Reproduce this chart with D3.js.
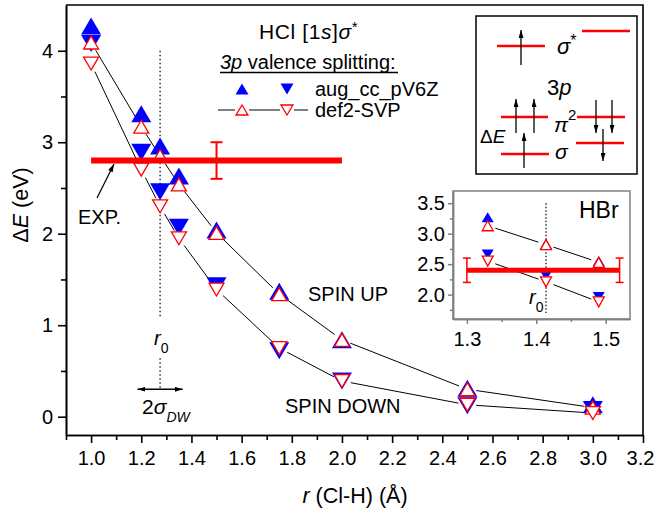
<!DOCTYPE html>
<html>
<head>
<meta charset="utf-8">
<script src="https://cdnjs.cloudflare.com/ajax/libs/d3/7.8.5/d3.min.js"></script>
<style>
  body { margin: 0; background: #fff; }
  svg { display: block; }
</style>
</head>
<body>
<div id="chart"></div>
<script>
// HCl data: r (Angstrom) and Delta E (eV)
var rValues = [1.0, 1.2, 1.275, 1.35, 1.5, 1.75, 2.0, 2.5, 3.0];
var augSpinUp = [4.27, 3.31, 2.96, 2.63, 2.04, 1.37, 0.84, 0.31, 0.13];
var augSpinDown = [4.08, 2.89, 2.46, 2.07, 1.43, 0.72, 0.39, 0.12, 0.08];
var svpSpinUp = [4.09, 3.17, 2.85, 2.54, 2.01, 1.34, 0.84, 0.30, 0.10];
var svpSpinDown = [3.86, 2.70, 2.30, 1.95, 1.39, 0.75, 0.39, 0.13, 0.04];

// experiment
var expRange = [1.0, 2.0];
var expValue = 2.8;
var expError = 0.2;
var expErrorAt = [1.5];
var r0 = 1.275;
var sigmaDW = 0.09;

// HBr inset data
var hbrR = [1.33, 1.414, 1.49];
var hbrAugSpinUp = [3.27, 2.83, 2.55];
var hbrAugSpinDown = [2.66, 2.31, 1.96];
var hbrSvpSpinUp = [3.13, 2.82, 2.53];
var hbrSvpSpinDown = [2.55, 2.21, 1.88];
var hbrExpRange = [1.3, 1.52];
var hbrExpValue = 2.4;
var hbrExpError = 0.2;
var hbrExpErrorAt = [1.3, 1.52];
var hbrR0 = 1.414;

// tick values
var xMajorTicks = [1.0, 1.2, 1.4, 1.6, 1.8, 2.0, 2.2, 2.4, 2.6, 2.8, 3.0, 3.2];
var xMinorTicks = [0.9, 1.1, 1.3, 1.5, 1.7, 1.9, 2.1, 2.3, 2.5, 2.7, 2.9, 3.1];
var yMajorTicks = [0, 1, 2, 3, 4];
var yMinorTicks = [0.5, 1.5, 2.5, 3.5];
var hbrXMajorTicks = [1.3, 1.4, 1.5];
var hbrXMinorTicks = [1.35, 1.45];
var hbrYMajorTicks = [2.0, 2.5, 3.0, 3.5];
var hbrYMinorTicks = [1.75, 2.25, 2.75, 3.25];

var font = "'Liberation Sans', Arial, sans-serif";
var blue = "#0000ff";
var red = "#ff0000";

// svg container
var svgWidth = 654;
var svgHeight = 513;

var margin = { top: 5, right: 11, bottom: 78, left: 66 };
var chartWidth = svgWidth - margin.left - margin.right;
var chartHeight = svgHeight - margin.top - margin.bottom;

var svg = d3.select("#chart").append("svg")
  .attr("width", svgWidth)
  .attr("height", svgHeight)
  .attr("font-family", font);

// arrow head
svg.append("defs").append("marker")
  .attr("id", "arrow")
  .attr("viewBox", "0 0 8 5")
  .attr("refX", 8)
  .attr("refY", 2.5)
  .attr("markerWidth", 8)
  .attr("markerHeight", 5)
  .attr("markerUnits", "userSpaceOnUse")
  .attr("orient", "auto-start-reverse")
  .append("path")
  .attr("d", "M0,0L8,2.5L0,5Z")
  .attr("fill", "#000");

// triangle centred on its bounding box
function triangle(w, h, up) {
  if (up) return "M0," + (-h / 2) + "L" + (w / 2) + "," + (h / 2) + "L" + (-w / 2) + "," + (h / 2) + "Z";
  return "M0," + (h / 2) + "L" + (w / 2) + "," + (-h / 2) + "L" + (-w / 2) + "," + (-h / 2) + "Z";
}

function drawMarkers(g, xs, ys, xS, yS, w, h, up, filled) {
  g.selectAll(null)
    .data(xs)
    .enter()
    .append("path")
    .attr("d", triangle(w, h, up))
    .attr("transform", function(d, i) { return "translate(" + xS(d) + "," + yS(ys[i]) + ")"; })
    .attr("fill", filled ? blue : "#fff")
    .attr("stroke", filled ? "none" : red)
    .attr("stroke-width", 1.3);
}

// line between points, stopping short of the symbols
function drawGapLine(g, xs, ys, xS, yS, gap) {
  for (var i = 0; i < xs.length - 1; i++) {
    var x1 = xS(xs[i]), y1 = yS(ys[i]), x2 = xS(xs[i + 1]), y2 = yS(ys[i + 1]);
    var len = Math.sqrt((x2 - x1) * (x2 - x1) + (y2 - y1) * (y2 - y1));
    if (len <= 2 * gap) continue;
    var ux = (x2 - x1) / len, uy = (y2 - y1) / len;
    g.append("line")
      .attr("x1", x1 + ux * gap).attr("y1", y1 + uy * gap)
      .attr("x2", x2 - ux * gap).attr("y2", y2 - uy * gap)
      .attr("stroke", "#000")
      .attr("stroke-width", 1);
  }
}

function styleAxis(g, size, color, width) {
  g.attr("font-family", font).attr("font-size", size);
  g.selectAll("line, path").attr("stroke", color).attr("stroke-width", width);
  g.selectAll("text").attr("fill", "#000");
}

// ---------------- Main chart ----------------
var chartGroup = svg.append("g")
  .attr("transform", "translate(" + margin.left + "," + margin.top + ")");

var xScale = d3.scaleLinear().domain([0.9, 3.2]).range([0, chartWidth]);
var yScale = d3.scaleLinear().domain([-0.2, 4.5]).range([chartHeight, 0]);

var xAxis = chartGroup.append("g")
  .attr("transform", "translate(0," + chartHeight + ")")
  .call(d3.axisBottom(xScale).tickValues(xMajorTicks).tickSize(8).tickSizeOuter(0)
    .tickPadding(8).tickFormat(d3.format(".1f")));
styleAxis(xAxis, 20, "#000", 1.6);
// last label sits right at the page edge
xAxis.selectAll(".tick text").filter(function(d) { return d === 3.2; }).attr("dx", -3);

var xMinor = chartGroup.append("g")
  .attr("transform", "translate(0," + chartHeight + ")")
  .call(d3.axisBottom(xScale).tickValues(xMinorTicks).tickSize(5).tickSizeOuter(0).tickFormat(""));
styleAxis(xMinor, 20, "#000", 1.6);

var yAxis = chartGroup.append("g")
  .call(d3.axisLeft(yScale).tickValues(yMajorTicks).tickSize(8).tickSizeOuter(0)
    .tickPadding(5).tickFormat(d3.format("d")));
styleAxis(yAxis, 20, "#000", 1.6);

var yMinor = chartGroup.append("g")
  .call(d3.axisLeft(yScale).tickValues(yMinorTicks).tickSize(5).tickSizeOuter(0).tickFormat(""));
styleAxis(yMinor, 20, "#000", 1.6);

// top and right frame
chartGroup.append("path")
  .attr("d", "M0,0H" + chartWidth + "V" + chartHeight)
  .attr("fill", "none")
  .attr("stroke", "#000")
  .attr("stroke-width", 1.6);

// axis labels
svg.append("text")
  .attr("x", 355).attr("y", 503)
  .attr("text-anchor", "middle")
  .attr("font-size", 21.5)
  .html("<tspan font-style='italic'>r</tspan> (Cl-H) (Å)");

svg.append("text")
  .attr("transform", "translate(28,205) rotate(-90)")
  .attr("text-anchor", "middle")
  .attr("font-size", 21.5)
  .html("Δ<tspan font-style='italic'>E</tspan> (eV)");

// r0 dotted line
chartGroup.append("line")
  .attr("x1", xScale(r0)).attr("x2", xScale(r0))
  .attr("y1", yScale(4.0)).attr("y2", yScale(1.07))
  .attr("stroke", "#000").attr("stroke-width", 1.2).attr("stroke-dasharray", "1.5,2.5");
chartGroup.append("line")
  .attr("x1", xScale(r0)).attr("x2", xScale(r0))
  .attr("y1", yScale(0.64)).attr("y2", yScale(0.31))
  .attr("stroke", "#000").attr("stroke-width", 1.2).attr("stroke-dasharray", "1.5,2.5");

chartGroup.append("text")
  .attr("x", xScale(r0) - 6).attr("y", yScale(0.78))
  .attr("font-size", 20)
  .html("<tspan font-style='italic'>r</tspan><tspan font-size='14' dy='8'>0</tspan>");

// 2 sigma_DW arrow
chartGroup.append("line")
  .attr("x1", xScale(r0 - sigmaDW)).attr("x2", xScale(r0 + sigmaDW))
  .attr("y1", yScale(0.3)).attr("y2", yScale(0.3))
  .attr("stroke", "#000").attr("stroke-width", 1.3)
  .attr("marker-start", "url(#arrow)")
  .attr("marker-end", "url(#arrow)");

chartGroup.append("text")
  .attr("x", xScale(r0) - 18).attr("y", yScale(0.0) - 3)
  .attr("font-size", 21)
  .html("2<tspan font-style='italic'>σ</tspan><tspan font-style='italic' font-size='14' dy='8'>DW</tspan>");

// connecting lines for def2-SVP
drawGapLine(chartGroup, rValues, svpSpinUp, xScale, yScale, 9);
drawGapLine(chartGroup, rValues, svpSpinDown, xScale, yScale, 9);

// markers
drawMarkers(chartGroup, rValues, augSpinUp, xScale, yScale, 20, 17, true, true);
drawMarkers(chartGroup, rValues, augSpinDown, xScale, yScale, 20, 17, false, true);
drawMarkers(chartGroup, rValues, svpSpinUp, xScale, yScale, 15, 13, true, false);
drawMarkers(chartGroup, rValues, svpSpinDown, xScale, yScale, 15, 13, false, false);

// experimental bar
chartGroup.append("line")
  .attr("x1", xScale(expRange[0])).attr("x2", xScale(expRange[1]))
  .attr("y1", yScale(expValue)).attr("y2", yScale(expValue))
  .attr("stroke", red).attr("stroke-width", 6);

expErrorAt.forEach(function(d) {
  var g = chartGroup.append("g").attr("stroke", red).attr("stroke-width", 2);
  g.append("line").attr("x1", xScale(d)).attr("x2", xScale(d))
    .attr("y1", yScale(expValue - expError)).attr("y2", yScale(expValue + expError));
  [expValue - expError, expValue + expError].forEach(function(v) {
    g.append("line").attr("x1", xScale(d) - 6).attr("x2", xScale(d) + 6)
      .attr("y1", yScale(v)).attr("y2", yScale(v));
  });
});

// EXP. label and arrow
svg.append("text").attr("x", 78).attr("y", 224).attr("font-size", 20).text("EXP.");
svg.append("line")
  .attr("x1", 97).attr("y1", 198).attr("x2", 114).attr("y2", 164)
  .attr("stroke", "#000").attr("stroke-width", 1.3)
  .attr("marker-end", "url(#arrow)");

// SPIN labels
svg.append("text").attr("x", 308).attr("y", 301).attr("font-size", 20).text("SPIN UP");
svg.append("text").attr("x", 285).attr("y", 413).attr("font-size", 20).text("SPIN DOWN");

// title and legend
svg.append("text").attr("x", 259).attr("y", 39).attr("font-size", 21).attr("letter-spacing", 0.6)
  .html("HCl [1<tspan font-style='italic'>s</tspan>]<tspan font-style='italic'>σ</tspan><tspan dy='-7' font-size='15'>*</tspan>");

svg.append("text").attr("x", 220).attr("y", 69).attr("font-size", 20)
  .html("<tspan font-style='italic'>3p</tspan> valence splitting:");
svg.append("line").attr("x1", 220).attr("x2", 398).attr("y1", 72.5).attr("y2", 72.5)
  .attr("stroke", "#000").attr("stroke-width", 1.3);

var legend = svg.append("g");
var legendX = d3.scaleLinear().domain([0, 1]).range([242, 287]);
var legendY = d3.scaleLinear().domain([0, 1]).range([89, 110]);
drawMarkers(legend, [0], [0], legendX, legendY, 13, 11, true, true);
drawMarkers(legend, [1], [0], legendX, legendY, 13, 11, false, true);
[[218, 235], [249, 280], [294, 308]].forEach(function(s) {
  legend.append("line").attr("x1", s[0]).attr("x2", s[1]).attr("y1", 110).attr("y2", 110)
    .attr("stroke", "#000").attr("stroke-width", 1);
});
drawMarkers(legend, [0], [1], legendX, legendY, 12, 10, true, false);
drawMarkers(legend, [1], [1], legendX, legendY, 12, 10, false, false);
legend.append("text").attr("x", 315).attr("y", 96).attr("font-size", 20).text("aug_cc_pV6Z");
legend.append("text").attr("x", 315).attr("y", 117).attr("font-size", 20).text("def2-SVP");

// ---------------- Orbital scheme inset ----------------
var scheme = svg.append("g");
scheme.append("rect").attr("x", 476).attr("y", 16).attr("width", 161).attr("height", 158)
  .attr("fill", "#fff").attr("stroke", "#000").attr("stroke-width", 1.5);

function level(x1, x2, y) {
  scheme.append("line").attr("x1", x1).attr("x2", x2).attr("y1", y).attr("y2", y)
    .attr("stroke", red).attr("stroke-width", 2.5);
}
function spin(x, y1, y2) {
  scheme.append("line").attr("x1", x).attr("x2", x).attr("y1", y1).attr("y2", y2)
    .attr("stroke", "#000").attr("stroke-width", 1.3).attr("marker-end", "url(#arrow)");
}
level(497, 545, 46);
level(582, 630, 31);
level(501, 548, 117);
level(577, 625, 117);
level(576, 624, 143);
level(501, 549, 154);
spin(521, 65, 30);
spin(516, 133, 99);
spin(534, 133, 99);
spin(596, 100, 133);
spin(612, 100, 133);
spin(603, 129, 161);
spin(524, 168, 133);

scheme.append("text").attr("x", 557).attr("y", 54).attr("font-size", 22)
  .html("<tspan font-style='italic'>σ</tspan><tspan dy='-8' font-size='16'>*</tspan>");
scheme.append("text").attr("x", 547).attr("y", 95).attr("font-size", 22)
  .html("3<tspan font-style='italic'>p</tspan>");
scheme.append("text").attr("x", 554).attr("y", 132).attr("font-size", 21)
  .html("<tspan font-style='italic'>π</tspan><tspan dy='-12' font-size='15'>2</tspan>");
scheme.append("text").attr("x", 555).attr("y", 159).attr("font-size", 21)
  .html("<tspan font-style='italic'>σ</tspan>");
scheme.append("text").attr("x", 480).attr("y", 143).attr("font-size", 19)
  .html("Δ<tspan font-style='italic'>E</tspan>");

// ---------------- HBr inset ----------------
var hbr = svg.append("g");
var hbrX = d3.scaleLinear().domain([1.28, 1.535]).range([453, 630]);
var hbrY = d3.scaleLinear().domain([1.6, 3.7]).range([319, 191]);
var inGray = "#808080";

hbr.append("rect").attr("x", 453).attr("y", 191).attr("width", 177).attr("height", 128)
  .attr("fill", "none").attr("stroke", inGray).attr("stroke-width", 1.5);

var hbrXAxis = hbr.append("g").attr("transform", "translate(0,319)")
  .call(d3.axisBottom(hbrX).tickValues(hbrXMajorTicks).tickSize(5).tickSizeOuter(0)
    .tickPadding(8).tickFormat(d3.format(".1f")));
styleAxis(hbrXAxis, 20, inGray, 1.5);
var hbrXMinor = hbr.append("g").attr("transform", "translate(0,319)")
  .call(d3.axisBottom(hbrX).tickValues(hbrXMinorTicks).tickSize(3).tickSizeOuter(0).tickFormat(""));
styleAxis(hbrXMinor, 20, inGray, 1.5);

var hbrYAxis = hbr.append("g").attr("transform", "translate(453,0)")
  .call(d3.axisLeft(hbrY).tickValues(hbrYMajorTicks).tickSize(5).tickSizeOuter(0)
    .tickPadding(3).tickFormat(d3.format(".1f")));
styleAxis(hbrYAxis, 20, inGray, 1.5);
var hbrYMinor = hbr.append("g").attr("transform", "translate(453,0)")
  .call(d3.axisLeft(hbrY).tickValues(hbrYMinorTicks).tickSize(3).tickSizeOuter(0).tickFormat(""));
styleAxis(hbrYMinor, 20, inGray, 1.5);

hbr.append("line")
  .attr("x1", hbrX(hbrR0)).attr("x2", hbrX(hbrR0))
  .attr("y1", hbrY(3.5)).attr("y2", hbrY(1.7))
  .attr("stroke", "#000").attr("stroke-width", 1.2).attr("stroke-dasharray", "1.5,2");

hbr.append("text").attr("x", hbrX(hbrR0) - 17).attr("y", 304).attr("font-size", 20)
  .html("<tspan font-style='italic'>r</tspan><tspan font-size='14' dy='8'>0</tspan>");

hbr.append("text").attr("x", 579).attr("y", 218).attr("font-size", 23).text("HBr");

drawGapLine(hbr, hbrR, hbrSvpSpinUp, hbrX, hbrY, 8);
drawGapLine(hbr, hbrR, hbrSvpSpinDown, hbrX, hbrY, 8);
drawMarkers(hbr, hbrR, hbrAugSpinUp, hbrX, hbrY, 12, 10, true, true);
drawMarkers(hbr, hbrR, hbrAugSpinDown, hbrX, hbrY, 12, 10, false, true);
drawMarkers(hbr, hbrR, hbrSvpSpinUp, hbrX, hbrY, 11, 10, true, false);
drawMarkers(hbr, hbrR, hbrSvpSpinDown, hbrX, hbrY, 11, 10, false, false);

hbr.append("line")
  .attr("x1", hbrX(hbrExpRange[0])).attr("x2", hbrX(hbrExpRange[1]))
  .attr("y1", hbrY(hbrExpValue)).attr("y2", hbrY(hbrExpValue))
  .attr("stroke", red).attr("stroke-width", 5);

hbrExpErrorAt.forEach(function(d) {
  var g = hbr.append("g").attr("stroke", red).attr("stroke-width", 1.5);
  g.append("line").attr("x1", hbrX(d)).attr("x2", hbrX(d))
    .attr("y1", hbrY(hbrExpValue - hbrExpError)).attr("y2", hbrY(hbrExpValue + hbrExpError));
  [hbrExpValue - hbrExpError, hbrExpValue + hbrExpError].forEach(function(v) {
    g.append("line").attr("x1", hbrX(d) - 4).attr("x2", hbrX(d) + 4)
      .attr("y1", hbrY(v)).attr("y2", hbrY(v));
  });
});
</script>
</body>
</html>
